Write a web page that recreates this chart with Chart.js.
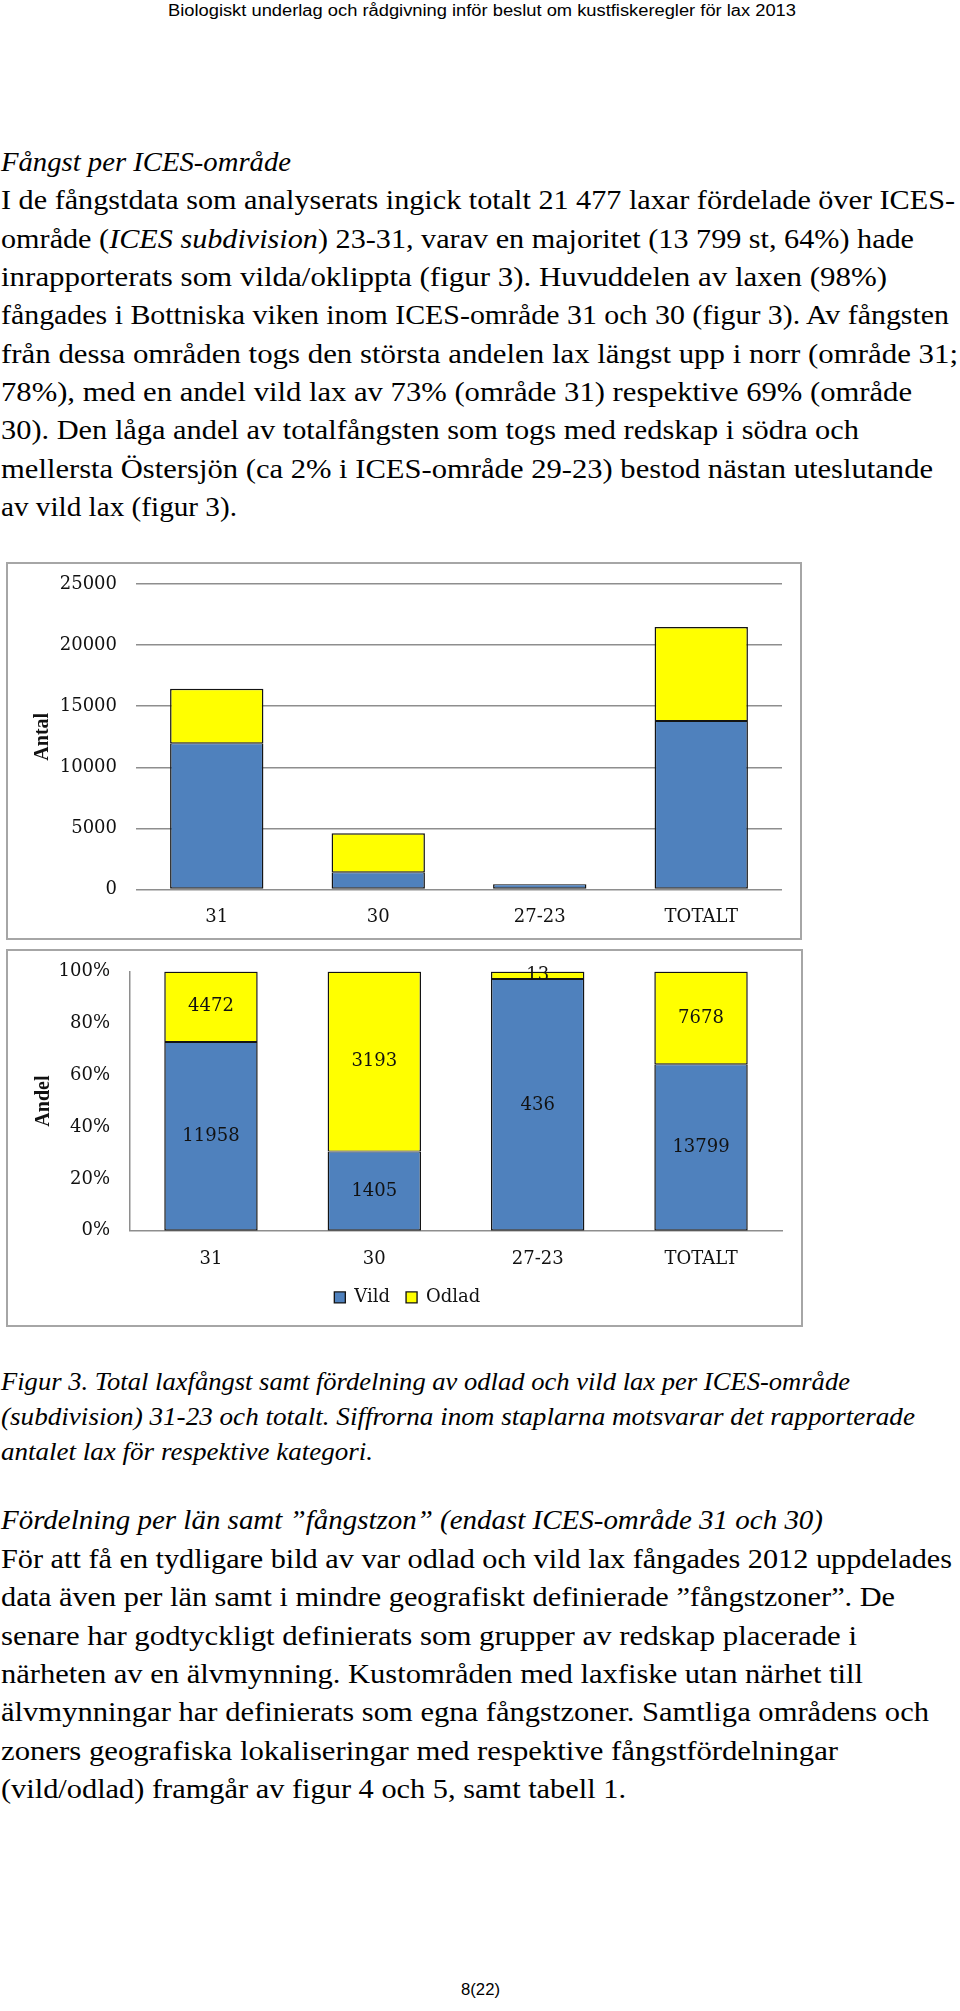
<!DOCTYPE html>
<html><head><meta charset="utf-8">
<script src="https://cdn.jsdelivr.net/npm/chart.js@4.4.1/dist/chart.umd.min.js"></script>
<style>
html,body{margin:0;padding:0;background:#fff;}
body{width:960px;height:2011px;position:relative;overflow:hidden;}
.ln{position:absolute;left:0;top:0;white-space:nowrap;line-height:1;transform-origin:0 0;color:#000;display:inline-block;}
.body{font-family:'Liberation Serif',serif;font-size:27.5px;}
.it{font-style:italic;}
.cap{font-family:'Liberation Serif',serif;font-size:25px;font-style:italic;}
.sans{font-family:'Liberation Sans',Arial,sans-serif;font-size:16px;}
.frame{position:absolute;border:2px solid #a6a6a6;box-sizing:border-box;}
canvas{position:absolute;}
</style></head><body>
<div class="frame" style="left:6px;top:562px;width:796px;height:378px"></div>
<canvas id="c1" width="792" height="374" style="left:8px;top:564px;width:792px;height:374px"></canvas>
<div class="frame" style="left:6px;top:949px;width:797px;height:378px"></div>
<canvas id="c2" width="793" height="374" style="left:8px;top:951px;width:793px;height:374px"></canvas>
<div id="txt"></div>
<script>
// ---- data ----
const categories = ['31', '30', '27-23', 'TOTALT'];
const vild = [11958, 1405, 436, 13799];
const odlad = [4472, 3193, 13, 7678];
const countTicks = [0, 5000, 10000, 15000, 20000, 25000];
const shareTicks = [0, 20, 40, 60, 80, 100];
const seriesNames = ['Vild', 'Odlad'];

// ---- text lines: [html, class, left, right, baseline] ----
const B = 'body', I = 'body it', C = 'cap', S = 'sans';
const lines = [
  ['Biologiskt underlag och rådgivning inför beslut om kustfiskeregler för lax 2013', S, 168, 796, 16],
  ['Fångst per ICES-område', I, 1, 291, 171],
  ['I de fångstdata som analyserats ingick totalt 21 477 laxar fördelade över ICES-', B, 1, 955, 209.3],
  ['område (<i>ICES subdivision</i>) 23-31, varav en majoritet (13 799 st, 64%) hade', B, 1, 914, 247.7],
  ['inrapporterats som vilda/oklippta (figur 3). Huvuddelen av laxen (98%)', B, 1, 887, 286],
  ['fångades i Bottniska viken inom ICES-område 31 och 30 (figur 3). Av fångsten', B, 1, 949, 324.3],
  ['från dessa områden togs den största andelen lax längst upp i norr (område 31;', B, 1, 958, 362.7],
  ['78%), med en andel vild lax av 73% (område 31) respektive 69% (område', B, 1, 912, 401],
  ['30). Den låga andel av totalfångsten som togs med redskap i södra och', B, 1, 859, 439.3],
  ['mellersta Östersjön (ca 2% i ICES-område 29-23) bestod nästan uteslutande', B, 1, 933, 477.7],
  ['av vild lax (figur 3).', B, 1, 237, 516],
  ['Figur 3. Total laxfångst samt fördelning av odlad och vild lax per ICES-område', C, 1, 850, 1390],
  ['(subdivision) 31-23 och totalt. Siffrorna inom staplarna motsvarar det rapporterade', C, 1, 915, 1425],
  ['antalet lax för respektive kategori.', C, 1, 373, 1460],
  ['Fördelning per län samt ”fångstzon” (endast ICES-område 31 och 30)', I, 1, 823, 1529],
  ['För att få en tydligare bild av var odlad och vild lax fångades 2012 uppdelades', B, 1, 952, 1568],
  ['data även per län samt i mindre geografiskt definierade ”fångstzoner”. De', B, 1, 895, 1606.3],
  ['senare har godtyckligt definierats som grupper av redskap placerade i', B, 1, 857, 1644.6],
  ['närheten av en älvmynning. Kustområden med laxfiske utan närhet till', B, 1, 863, 1683],
  ['älvmynningar har definierats som egna fångstzoner. Samtliga områdens och', B, 1, 929, 1721.3],
  ['zoners geografiska lokaliseringar med respektive fångstfördelningar', B, 1, 838, 1759.6],
  ['(vild/odlad) framgår av figur 4 och 5, samt tabell 1.', B, 1, 626, 1798],
  ['8(22)', S, 461, 500, 1995]
];

function layoutText() {
  const host = document.getElementById('txt');
  lines.forEach(([html, cls, l, r, base]) => {
    const d = document.createElement('div');
    d.className = 'ln ' + cls;
    d.innerHTML = html;
    host.appendChild(d);
    const m = document.createElement('span');
    m.style.cssText = 'display:inline-block;width:0;height:0;vertical-align:baseline;';
    d.appendChild(m);
    const bOff = m.getBoundingClientRect().top - d.getBoundingClientRect().top;
    m.remove();
    const w = d.getBoundingClientRect().width;
    const sx = (r - l) / w;
    d.style.left = l + 'px';
    d.style.top = (base - bOff) + 'px';
    d.style.transform = 'scaleX(' + sx.toFixed(4) + ')';
  });
}
(document.fonts && document.fonts.ready ? document.fonts.ready : Promise.resolve()).then(layoutText);

// ---- charts ----
Chart.defaults.font.family = "'DejaVu Serif', serif";
Chart.defaults.font.size = 18;
Chart.defaults.color = '#111';

const BLUE = '#4F81BD', YELLOW = '#FFFF00', EDGE = '#141414', AXIS = '#8e8e8e';
const edgeLow = {top: 1, left: 1.5, right: 1.5, bottom: 1.5};
const edgeHigh = {top: 1.5, left: 1.5, right: 1.5, bottom: 1};
const titleFont = {family: "'Liberation Serif', serif", size: 20, weight: 'bold'};

new Chart(document.getElementById('c1'), {
  type: 'bar',
  data: {
    labels: categories,
    datasets: [
      {label: seriesNames[0], data: vild, backgroundColor: BLUE, borderColor: EDGE, borderWidth: edgeLow, borderSkipped: false, barPercentage: 0.578, categoryPercentage: 1},
      {label: seriesNames[1], data: odlad, backgroundColor: YELLOW, borderColor: EDGE, borderWidth: edgeHigh, borderSkipped: false, barPercentage: 0.578, categoryPercentage: 1}
    ]
  },
  options: {
    responsive: false, animation: false, devicePixelRatio: 1,
    layout: {padding: {top: 20, right: 18, left: 0, bottom: 0}},
    plugins: {legend: {display: false}, tooltip: {enabled: false}},
    scales: {
      x: {
        stacked: true,
        grid: {display: false, drawTicks: false},
        border: {display: false},
        ticks: {padding: 16.7},
        afterFit(s) { s.height = 48.5; s.paddingLeft = 0; s.paddingRight = 0; }
      },
      y: {
        stacked: true, min: 0, max: 25000,
        afterBuildTicks(s) { s.ticks = countTicks.map(v => ({value: v})); },
        grid: {color: AXIS, lineWidth: 1.5, drawTicks: false},
        border: {display: false},
        ticks: {padding: 19, callback: v => String(v)},
        title: {display: true, text: 'Antal', font: titleFont, color: '#111', padding: {top: 23, bottom: 0}},
        afterFit(s) { s.width = 128; s.paddingTop = 0; s.paddingBottom = 0; }
      }
    }
  }
});

const total = vild.map((v, i) => v + odlad[i]);
const vildShare = vild.map((v, i) => v / total[i] * 100);
const odladShare = odlad.map((v, i) => v / total[i] * 100);

const segmentLabels = {
  id: 'segmentLabels',
  afterDatasetsDraw(chart, args, opts) {
    if (!opts.counts) return;
    const ctx = chart.ctx;
    ctx.save();
    ctx.font = "18px 'DejaVu Serif', serif";
    ctx.fillStyle = '#111';
    ctx.textAlign = 'center';
    ctx.textBaseline = 'middle';
    chart.data.datasets.forEach((ds, i) => {
      chart.getDatasetMeta(i).data.forEach((bar, j) => {
        ctx.fillText(String(opts.counts[i][j]), bar.x, (bar.y + bar.base) / 2);
      });
    });
    ctx.restore();
  }
};

new Chart(document.getElementById('c2'), {
  type: 'bar',
  data: {
    labels: categories,
    datasets: [
      {label: seriesNames[0], data: vildShare, backgroundColor: BLUE, borderColor: EDGE, borderWidth: edgeLow, borderSkipped: false, barPercentage: 0.572, categoryPercentage: 1},
      {label: seriesNames[1], data: odladShare, backgroundColor: YELLOW, borderColor: EDGE, borderWidth: edgeHigh, borderSkipped: false, barPercentage: 0.572, categoryPercentage: 1}
    ]
  },
  plugins: [segmentLabels],
  options: {
    responsive: false, animation: false, devicePixelRatio: 1,
    layout: {padding: {top: 20.5, right: 18.3, left: 24, bottom: 8.6}},
    plugins: {
      tooltip: {enabled: false},
      segmentLabels: {counts: [vild, odlad]},
      legend: {
        position: 'bottom',
        labels: {boxWidth: 11, boxHeight: 11, padding: 16, color: '#111', font: {size: 18}}
      }
    },
    scales: {
      x: {
        stacked: true,
        grid: {display: false, drawTicks: false},
        border: {display: true, color: AXIS, width: 1.5},
        ticks: {padding: 17.5},
        afterFit(s) { s.height = 41.7; s.paddingLeft = 0; s.paddingRight = 0; }
      },
      y: {
        stacked: true, min: 0, max: 100,
        afterBuildTicks(s) { s.ticks = shareTicks.map(v => ({value: v})); },
        grid: {display: false, drawTicks: false},
        border: {display: true, color: AXIS, width: 1.5},
        ticks: {padding: 19.3, callback: v => v + '%'},
        title: {display: true, text: 'Andel', font: titleFont, color: '#111', padding: {top: 0, bottom: 0}},
        afterFit(s) { s.width = 97.3; s.paddingTop = 0; s.paddingBottom = 0; }
      }
    }
  }
});
</script>
</body></html>
